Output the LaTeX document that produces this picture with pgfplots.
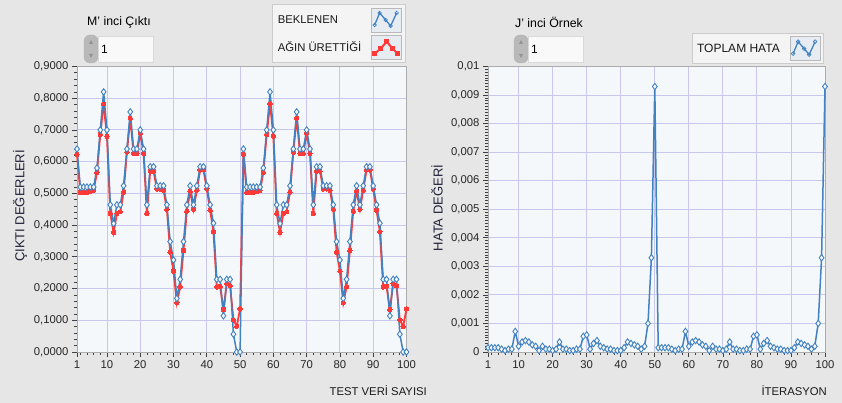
\documentclass[border=0pt]{standalone}
\usepackage{pgfplots}
\usepackage{pgfplotstable}
\pgfplotsset{compat=1.18}
\usepackage{fontspec}
\setmainfont{Liberation Sans}
\definecolor{bgc}{HTML}{E6E6E6}
\definecolor{plotbg}{HTML}{F5F8FA}
\definecolor{gridc}{HTML}{C8C8EE}
\definecolor{bluel}{HTML}{4282C0}
\definecolor{redl}{HTML}{FF3838}
\definecolor{lblc}{HTML}{22223A}
\definecolor{iconbg}{HTML}{E6ECF2}
\definecolor{legbg}{HTML}{F4F4F4}

\pgfplotstableread{
x b r e
1 0.640 0.623 0.00015
2 0.520 0.503 0.00015
3 0.520 0.503 0.00015
4 0.520 0.503 0.00015
5 0.520 0.506 0.00010
6 0.520 0.510 0.00005
7 0.580 0.566 0.00010
8 0.700 0.686 0.00010
9 0.820 0.782 0.00072
10 0.700 0.680 0.00020
11 0.464 0.437 0.00035
12 0.405 0.377 0.00040
13 0.464 0.437 0.00035
14 0.464 0.442 0.00025
15 0.524 0.504 0.00020
16 0.640 0.630 0.00005
17 0.757 0.737 0.00020
18 0.640 0.626 0.00010
19 0.640 0.626 0.00010
20 0.700 0.690 0.00005
21 0.640 0.626 0.00010
22 0.464 0.437 0.00035
23 0.584 0.570 0.00010
24 0.584 0.570 0.00010
25 0.524 0.514 0.00005
26 0.524 0.514 0.00005
27 0.524 0.510 0.00010
28 0.464 0.450 0.00010
29 0.348 0.315 0.00055
30 0.290 0.255 0.00060
31 0.169 0.155 0.00010
32 0.229 0.205 0.00030
33 0.348 0.320 0.00040
34 0.464 0.444 0.00020
35 0.524 0.507 0.00015
36 0.464 0.450 0.00010
37 0.524 0.510 0.00010
38 0.584 0.574 0.00005
39 0.584 0.574 0.00005
40 0.524 0.514 0.00005
41 0.464 0.447 0.00015
42 0.406 0.379 0.00035
43 0.229 0.205 0.00030
44 0.229 0.207 0.00025
45 0.114 0.134 0.00020
46 0.229 0.215 0.00010
47 0.229 0.209 0.00020
48 0.056 0.101 0.00100
49 0.000 0.081 0.00330
50 0.000 0.136 0.00930
51 0.640 0.623 0.00015
52 0.520 0.503 0.00015
53 0.520 0.503 0.00015
54 0.520 0.503 0.00015
55 0.520 0.506 0.00010
56 0.520 0.510 0.00005
57 0.580 0.566 0.00010
58 0.700 0.686 0.00010
59 0.820 0.782 0.00072
60 0.700 0.680 0.00020
61 0.464 0.437 0.00035
62 0.405 0.377 0.00040
63 0.464 0.437 0.00035
64 0.464 0.442 0.00025
65 0.524 0.504 0.00020
66 0.640 0.630 0.00005
67 0.757 0.737 0.00020
68 0.640 0.626 0.00010
69 0.640 0.626 0.00010
70 0.700 0.690 0.00005
71 0.640 0.626 0.00010
72 0.464 0.437 0.00035
73 0.584 0.570 0.00010
74 0.584 0.570 0.00010
75 0.524 0.514 0.00005
76 0.524 0.514 0.00005
77 0.524 0.510 0.00010
78 0.464 0.450 0.00010
79 0.348 0.315 0.00055
80 0.290 0.255 0.00060
81 0.169 0.155 0.00010
82 0.229 0.205 0.00030
83 0.348 0.320 0.00040
84 0.464 0.444 0.00020
85 0.524 0.507 0.00015
86 0.464 0.450 0.00010
87 0.524 0.510 0.00010
88 0.584 0.574 0.00005
89 0.584 0.574 0.00005
90 0.524 0.514 0.00005
91 0.464 0.447 0.00015
92 0.406 0.379 0.00035
93 0.229 0.205 0.00030
94 0.229 0.207 0.00025
95 0.114 0.134 0.00020
96 0.229 0.215 0.00010
97 0.229 0.209 0.00020
98 0.056 0.101 0.00100
99 0.000 0.081 0.00330
100 0.000 0.136 0.00930
}\datatable

\pgfplotsset{
  lvstyle/.style={
    scale only axis,
    axis background/.style={fill=plotbg},
    xmin=1, xmax=100,
    xtick={1,10,20,30,40,50,60,70,80,90,100},
    minor xtick={2,4,...,98},
    xmajorgrids, ymajorgrids,
    major grid style={draw=gridc, line width=0.9pt},
    tick align=outside, tick pos=left,
    major tick length=5pt, minor tick length=3pt,
    every tick/.style={draw=black!75, line width=0.7pt},
    axis line style={draw=gray!65, line width=0.8pt},
    tick label style={font=\fontsize{11.3}{13}\selectfont, text=black!85},
    /pgf/number format/assume math mode=true,
    clip=false,
  },
  legstyle/.style={
    legend plot pos=right, legend cell align=left,
    legend style={at={(rel axis cs:1,1)}, anchor=south east,
      fill=legbg, draw=gray!40, line width=1pt,
      font=\fontsize{11.3}{13}\selectfont, text=black!90,
      row sep=3pt, inner xsep=3pt, inner ysep=3pt,
      /tikz/every odd column/.append style={column sep=8pt}},
  },
  blueicon/.style={legend image code/.code={
    \draw[draw=gray!55, fill=iconbg, line width=0.7pt] (0pt,-12pt) rectangle (30pt,12pt);
    \draw[bluel, line width=1.3pt, mark=o, mark size=1.8pt, mark options={fill=iconbg, line width=0.7pt}]
      plot coordinates {(3pt,-5pt) (8pt,7pt) (14pt,0pt) (19pt,-6pt) (25pt,7pt)};}},
  redicon/.style={legend image code/.code={
    \draw[draw=gray!55, fill=iconbg, line width=0.7pt] (0pt,-12pt) rectangle (30pt,12pt);
    \draw[redl, line width=2pt, mark=square*, mark size=1.3pt]
      plot coordinates {(3pt,-6pt) (9pt,-1pt) (15pt,6pt) (21pt,-1pt) (26pt,-6pt)};}},
}

\begin{document}
\begin{tikzpicture}
\fill[bgc] (0pt,0pt) rectangle (842pt,403pt);
\useasboundingbox (0pt,0pt) rectangle (842pt,403pt);

% ---------- left chart ----------
\begin{axis}[lvstyle, legstyle,
  at={(77pt,51pt)}, anchor=south west,
  width=329.5pt, height=285.5pt,
  ymin=0, ymax=0.9,
  ytick={0,0.1,0.2,0.3,0.4,0.5,0.6,0.7,0.8,0.9},
  minor y tick num=4,
  yticklabel style={/pgf/number format/.cd, fixed, fixed zerofill, precision=4, use comma},
  legend style={yshift=3pt, xshift=-1pt},
]
\addlegendimage{blueicon}
\addlegendentry{BEKLENEN}
\addlegendimage{redicon}
\addlegendentry{AĞIN ÜRETTİĞİ}
\addplot[redl, line width=1.8pt, mark=*, mark size=2.2pt, mark options={line width=0pt}, forget plot]
  table[x=x, y=r] {\datatable};
\addplot[bluel, line width=1.5pt, mark=diamond*, mark size=3.2pt,
  mark options={fill=plotbg, draw=bluel, line width=0.9pt}, forget plot]
  table[x=x, y=b] {\datatable};
\end{axis}

% ---------- right chart ----------
\begin{axis}[lvstyle, legstyle,
  at={(488pt,51pt)}, anchor=south west,
  width=337pt, height=285.5pt,
  ymin=0, ymax=0.01,
  ytick={0,0.001,0.002,0.003,0.004,0.005,0.006,0.007,0.008,0.009,0.01},
  yticklabels={0,{0,001},{0,002},{0,003},{0,004},{0,005},{0,006},{0,007},{0,008},{0,009},{0,01}},
  scaled y ticks=false,
  minor y tick num=9,
  legend style={yshift=2pt, xshift=-1pt, font=\fontsize{12}{14}\selectfont},
]
\addlegendimage{blueicon}
\addlegendentry{TOPLAM HATA}
\addplot[bluel, line width=1.5pt, mark=diamond*, mark size=3.2pt,
  mark options={fill=plotbg, draw=bluel, line width=0.9pt}, forget plot]
  table[x=x, y=e] {\datatable};
\end{axis}

% ---------- controls and labels ----------
\node[anchor=west, font=\fontsize{12.3}{14}\selectfont, inner sep=0pt] at (87pt,381pt) {M' inci Çıktı};
\draw[fill=gray!55, draw=gray!60, rounded corners=6pt] (84pt,340pt) rectangle (98pt,368pt);
\fill[gray!85] (89pt,359pt) -- (93pt,359pt) -- (91pt,363pt) -- cycle;
\fill[gray!85] (89pt,349pt) -- (93pt,349pt) -- (91pt,345pt) -- cycle;
\draw[fill=white!95!gray, draw=gray!30] (98pt,341pt) rectangle (153pt,367pt);
\node[anchor=west, font=\fontsize{12}{14}\selectfont, inner sep=0pt] at (101pt,354pt) {1};

\node[anchor=west, font=\fontsize{12.3}{14}\selectfont, inner sep=0pt] at (515pt,381pt) {J' inci Örnek};
\draw[fill=gray!55, draw=gray!60, rounded corners=6pt] (514pt,340pt) rectangle (528pt,368pt);
\fill[gray!85] (519pt,359pt) -- (523pt,359pt) -- (521pt,363pt) -- cycle;
\fill[gray!85] (519pt,349pt) -- (523pt,349pt) -- (521pt,345pt) -- cycle;
\draw[fill=white!95!gray, draw=gray!30] (528pt,341pt) rectangle (583pt,367pt);
\node[anchor=west, font=\fontsize{12}{14}\selectfont, inner sep=0pt] at (531pt,354pt) {1};

\node[rotate=90, font=\fontsize{13}{15}\selectfont, text=lblc] at (20pt,197pt) {ÇIKTI DEĞERLERİ};
\node[rotate=90, font=\fontsize{13}{15}\selectfont, text=lblc] at (437pt,195pt) {HATA DEĞERİ};
\node[anchor=east, font=\fontsize{11.3}{13}\selectfont, text=black!90, inner sep=0pt] at (427pt,12pt) {TEST VERİ SAYISI};
\node[anchor=east, font=\fontsize{11.3}{13}\selectfont, text=black!90, inner sep=0pt] at (827pt,12pt) {İTERASYON};
\end{tikzpicture}
\end{document}
